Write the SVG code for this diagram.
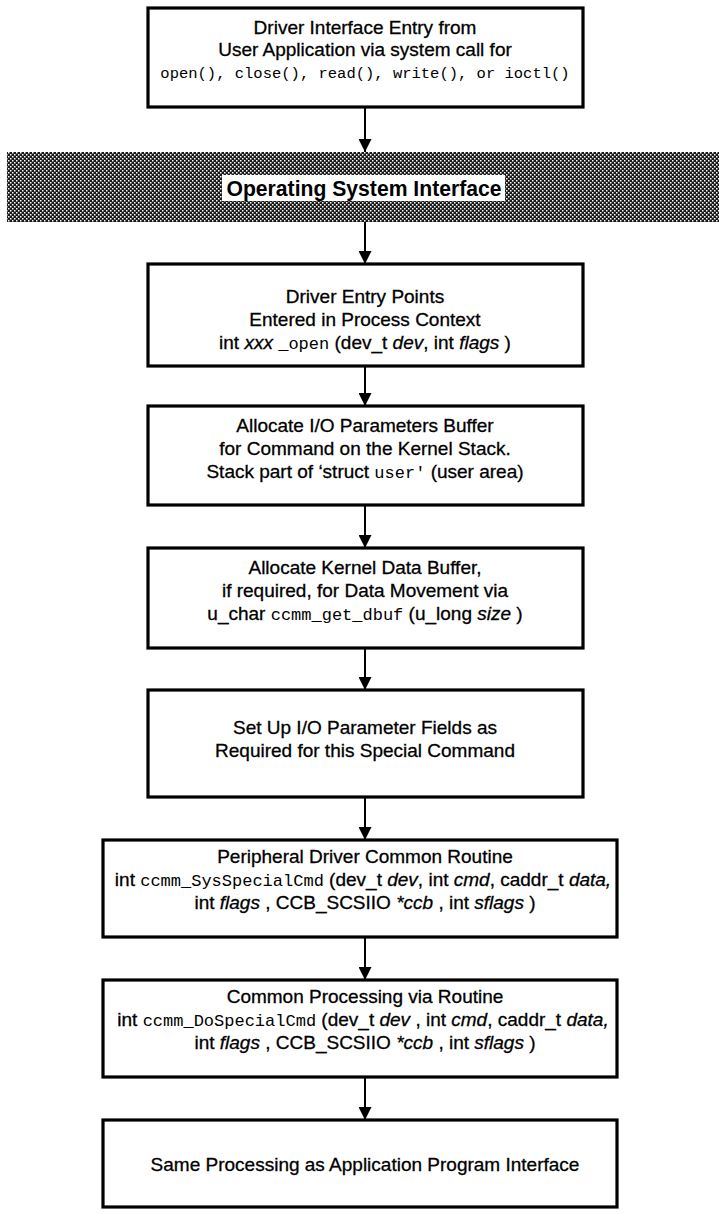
<svg xmlns="http://www.w3.org/2000/svg" width="719" height="1214" viewBox="0 0 719 1214">
<style>
.box{fill:#fff;stroke:#000;stroke-width:3.2}
.t{font-family:"Liberation Sans",Arial,sans-serif;font-size:19px;fill:#000;stroke:#000;stroke-width:0.3;text-anchor:middle}
.m{font-family:"Liberation Mono","Courier New",monospace;font-size:17px;stroke-width:0}
.m1{font-size:15.5px}
.i{font-style:italic}
.c{stroke:#000;stroke-width:2;fill:none}
.lab{font-family:"Liberation Sans",Arial,sans-serif;font-size:22px;font-weight:bold;fill:#000;text-anchor:middle}
</style>
<defs>
<marker id="ah" markerWidth="13" markerHeight="13" viewBox="0 0 13 13" refX="13" refY="6.5" orient="auto" markerUnits="userSpaceOnUse">
<path d="M0,0 L13,6.5 L0,13 Z" fill="#000"/>
</marker>
<pattern id="ht" width="4" height="4" patternUnits="userSpaceOnUse">
<rect width="4" height="4" fill="#1a1a1a"/>
<rect x="0" y="0" width="1.5" height="1.5" fill="#fff"/>
<rect x="2" y="2" width="1.5" height="1.5" fill="#fff"/>
</pattern>
</defs>
<rect width="719" height="1214" fill="#fff"/>
<g id="connectors">
<line class="c" x1="365" y1="107" x2="365" y2="152" marker-end="url(#ah)"/>
<line class="c" x1="365" y1="222" x2="365" y2="264" marker-end="url(#ah)"/>
<line class="c" x1="365" y1="366" x2="365" y2="406" marker-end="url(#ah)"/>
<line class="c" x1="365" y1="505" x2="365" y2="548" marker-end="url(#ah)"/>
<line class="c" x1="365" y1="648" x2="365" y2="690" marker-end="url(#ah)"/>
<line class="c" x1="365" y1="797" x2="365" y2="840" marker-end="url(#ah)"/>
<line class="c" x1="365" y1="937" x2="365" y2="980" marker-end="url(#ah)"/>
<line class="c" x1="365" y1="1077" x2="365" y2="1120" marker-end="url(#ah)"/>
</g>
<g id="n1">
<rect class="box" x="148" y="8" width="435" height="99"/>
<text class="t" x="365" y="34">Driver Interface Entry from</text>
<text class="t" x="365" y="56">User Application via system call for</text>
<text class="t m m1" x="365" y="78">open(), close(), read(), write(), or ioctl()</text>
</g>
<g id="n2">
<rect x="7" y="152" width="712" height="70" fill="url(#ht)"/>
<rect x="222" y="175" width="283" height="26" fill="#fff"/>
<text class="lab" x="364" y="196" textLength="275" lengthAdjust="spacingAndGlyphs">Operating System Interface</text>
</g>
<g id="n3">
<rect class="box" x="148" y="264" width="435" height="102"/>
<text class="t" x="365" y="303">Driver Entry Points</text>
<text class="t" x="365" y="326">Entered in Process Context</text>
<text class="t" x="365" y="349">int <tspan class="i">xxx</tspan> <tspan class="m">_open</tspan> (dev_t <tspan class="i">dev</tspan>, int <tspan class="i">flags</tspan> )</text>
</g>
<g id="n4">
<rect class="box" x="148" y="406" width="435" height="99"/>
<text class="t" x="365" y="432">Allocate I/O Parameters Buffer</text>
<text class="t" x="365" y="455">for Command on the Kernel Stack.</text>
<text class="t" x="365" y="478">Stack part of  ‘struct <tspan class="m">user'</tspan> (user area)</text>
</g>
<g id="n5">
<rect class="box" x="148" y="548" width="435" height="100"/>
<text class="t" x="365" y="574">Allocate Kernel Data Buffer,</text>
<text class="t" x="365" y="597">if required, for Data Movement via</text>
<text class="t" x="365" y="620">u_char <tspan class="m">ccmm_get_dbuf</tspan> (u_long <tspan class="i">size</tspan> )</text>
</g>
<g id="n6">
<rect class="box" x="148" y="690" width="435" height="107"/>
<text class="t" x="365" y="734">Set Up I/O Parameter Fields as</text>
<text class="t" x="365" y="757">Required for this Special Command</text>
</g>
<g id="n7">
<rect class="box" x="103" y="840" width="514" height="97"/>
<text class="t" x="365" y="863">Peripheral Driver Common Routine</text>
<text class="t" x="363" y="886">int <tspan class="m">ccmm_SysSpecialCmd</tspan> (dev_t <tspan class="i">dev</tspan>, int <tspan class="i">cmd</tspan>, caddr_t <tspan class="i">data,</tspan></text>
<text class="t" x="365" y="909">int <tspan class="i">flags</tspan> , CCB_SCSIIO <tspan class="i">*ccb</tspan> , int <tspan class="i">sflags</tspan> )</text>
</g>
<g id="n8">
<rect class="box" x="103" y="980" width="514" height="97"/>
<text class="t" x="365" y="1003">Common Processing via Routine</text>
<text class="t" x="363" y="1026">int <tspan class="m">ccmm_DoSpecialCmd</tspan> (dev_t <tspan class="i">dev</tspan> , int <tspan class="i">cmd</tspan>, caddr_t <tspan class="i">data,</tspan></text>
<text class="t" x="365" y="1049">int <tspan class="i">flags</tspan> , CCB_SCSIIO <tspan class="i">*ccb</tspan> , int <tspan class="i">sflags</tspan> )</text>
</g>
<g id="n9">
<rect class="box" x="103" y="1120" width="514" height="87"/>
<text class="t" x="365" y="1171">Same Processing as Application Program Interface</text>
</g>
</svg>
